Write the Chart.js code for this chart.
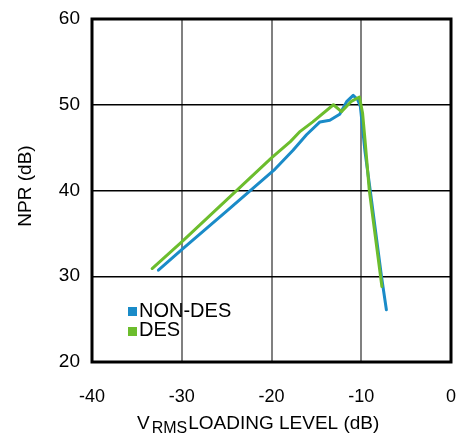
<!DOCTYPE html>
<html>
<head>
<meta charset="utf-8">
<script src="https://cdn.jsdelivr.net/npm/chart.js@4.4.1/dist/chart.umd.min.js"></script>
<style>
  html, body { margin: 0; padding: 0; background: #fff; }
  #wrap { width: 459px; height: 436px; }
</style>
</head>
<body>
<div id="wrap"><canvas id="npr" width="459" height="436"></canvas></div>
<script>
// NPR vs loading level
const X_TICKS = [-40, -30, -20, -10, 0];
const Y_TICKS = [20, 30, 40, 50, 60];

const nonDesX = [-32.6, -30, -25, -19.6, -17.6, -16.1, -14.6, -13.5, -12.4, -11.6, -10.9, -10.4, -10.1, -9.6, -9.0, -7.75, -7.2];
const nonDesY = [30.7, 33.1, 37.6, 42.5, 44.7, 46.5, 48.0, 48.2, 48.9, 50.4, 51.1, 50.6, 49.8, 44.7, 40.0, 30.0, 26.1];

const desX = [-33.3, -30, -25, -20, -17.9, -16.8, -15.4, -13.1, -12.2, -11.1, -10.2, -9.85, -9.6, -9.1, -7.85, -7.7];
const desY = [30.9, 34.0, 38.9, 43.8, 45.7, 46.9, 48.0, 50.0, 49.2, 50.4, 50.9, 49.0, 46.1, 40.0, 30.0, 28.8];

const SERIES = ["NON-DES", "DES"];
const COLORS = { nonDes: "#1a8bc8", des: "#6cbd2d" };
const FONT = "'Liberation Sans', Arial, sans-serif";

function pts(xs, ys) {
  return xs.map((x, i) => ({ x, y: ys[i] }));
}

function noPad(s) {
  s.paddingLeft = 0;
  s.paddingRight = 0;
  s.paddingTop = 0;
  s.paddingBottom = 0;
}

// frame, axis titles and the little legend block
const decor = {
  id: "decor",
  afterDraw(chart) {
    const { ctx, chartArea: a } = chart;
    ctx.save();
    ctx.strokeStyle = "#000";
    ctx.lineWidth = 3;
    ctx.strokeRect(a.left, a.top, a.right - a.left, a.bottom - a.top);

    ctx.fillStyle = "#000";
    ctx.textBaseline = "alphabetic";
    ctx.textAlign = "left";

    // x title: V with RMS subscript
    let x = a.left + 45;
    const base = 429;
    ctx.font = "19px " + FONT;
    ctx.fillText("V", x, base);
    x += ctx.measureText("V").width + 2;
    ctx.font = "16px " + FONT;
    ctx.fillText("RMS", x, base + 4);
    x += ctx.measureText("RMS").width + 1;
    ctx.font = "19px " + FONT;
    ctx.fillText("LOADING LEVEL (dB)", x, base);

    // y title
    ctx.save();
    ctx.translate(31, 186);
    ctx.rotate(-Math.PI / 2);
    ctx.textAlign = "center";
    ctx.font = "19px " + FONT;
    ctx.fillText("NPR (dB)", 0, 0);
    ctx.restore();

    // legend
    const lx = a.left + 36;
    ctx.font = "20px " + FONT;
    ctx.fillStyle = COLORS.nonDes;
    ctx.fillRect(lx, 307, 9, 9);
    ctx.fillStyle = COLORS.des;
    ctx.fillRect(lx, 327, 9, 9);
    ctx.fillStyle = "#000";
    ctx.fillText(SERIES[0], lx + 11, 316.5);
    ctx.fillText(SERIES[1], lx + 11, 336);
    ctx.restore();
  },
};

new Chart(document.getElementById("npr"), {
  type: "line",
  data: {
    datasets: [
      {
        label: SERIES[1],
        data: pts(desX, desY),
        borderColor: COLORS.des,
        backgroundColor: COLORS.des,
        borderWidth: 3,
        pointRadius: 0,
        tension: 0,
        borderCapStyle: "round",
        borderJoinStyle: "round",
      },
      {
        label: SERIES[0],
        data: pts(nonDesX, nonDesY),
        borderColor: COLORS.nonDes,
        backgroundColor: COLORS.nonDes,
        borderWidth: 3,
        pointRadius: 0,
        tension: 0,
        borderCapStyle: "round",
        borderJoinStyle: "round",
      },
    ],
  },
  options: {
    responsive: false,
    animation: false,
    layout: { padding: { top: 19, right: 8, left: 0, bottom: 0 } },
    plugins: { legend: { display: false }, tooltip: { enabled: false } },
    scales: {
      x: {
        type: "linear",
        min: -40,
        max: 0,
        afterBuildTicks: (s) => { s.ticks = X_TICKS.map((v) => ({ value: v })); },
        afterFit: (s) => { s.height = 74; noPad(s); },
        grid: { color: "#808080", lineWidth: 2, drawTicks: false },
        border: { display: false },
        ticks: { color: "#000", padding: 24, font: { family: FONT, size: 18 } },
      },
      y: {
        type: "linear",
        min: 20,
        max: 60,
        afterBuildTicks: (s) => { s.ticks = Y_TICKS.map((v) => ({ value: v })); },
        afterFit: (s) => { s.width = 92; noPad(s); },
        grid: { color: "#000", lineWidth: 1.5, drawTicks: false },
        border: { display: false },
        ticks: { color: "#000", padding: 12, font: { family: FONT, size: 19 } },
      },
    },
  },
  plugins: [decor],
});
</script>
</body>
</html>
